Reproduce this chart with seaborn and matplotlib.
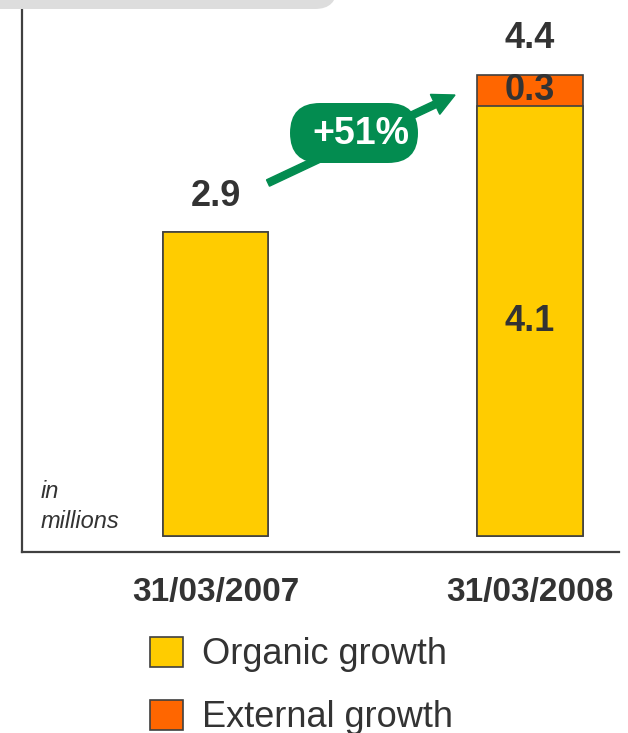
import matplotlib
matplotlib.use("Agg")
import matplotlib.pyplot as plt
import seaborn as sns
import pandas as pd
from matplotlib.patches import FancyBboxPatch, Patch, FancyArrow
from matplotlib.transforms import IdentityTransform

# Subscriber base, in millions
dates = ["31/03/2007", "31/03/2008"]
organic = [2.9, 4.1]
external = [0.0, 0.3]
growth_label = "+51%"
legend_labels = ["Organic growth", "External growth"]

YELLOW = "#FFCC00"
ORANGE = "#FF6600"
GREEN = "#038C50"
TEXT = "#333333"
EDGE = "#404040"

totals = [o + e for o, e in zip(organic, external)]
df = pd.DataFrame({"date": dates, "organic": organic, "external": external, "total": totals})

sns.set_theme(style="white")
plt.rcParams["font.family"] = ["Liberation Sans", "DejaVu Sans"]

W, H = 628, 733
fig = plt.figure(figsize=(W / 100, H / 100), dpi=100)
ax = fig.add_axes([22 / W, 1 - 552 / H, (619 - 22) / W, (552 - 9) / H])

bar_w = 0.334
# Full stack in orange, organic part painted over it in yellow
sns.barplot(data=df, x="date", y="total", color=ORANGE, saturation=1, width=bar_w,
            edgecolor=EDGE, linewidth=1.2, ax=ax)
sns.barplot(data=df, x="date", y="organic", color=YELLOW, saturation=1, width=bar_w,
            edgecolor=EDGE, linewidth=1.2, ax=ax)

ax.set_xlim(-0.615, 1.283)
ax.set_ylim(-0.153, 5.03)
ax.set_xlabel("")
ax.set_ylabel("")
ax.set_yticks([])
ax.tick_params(axis="x", length=0, pad=18)
ax.set_xticks(range(len(dates)))
ax.set_xticklabels(dates, fontsize=24, fontweight="bold", color=TEXT)
for side in ["top", "right"]:
    ax.spines[side].set_visible(False)
for side in ["left", "bottom"]:
    ax.spines[side].set_color(EDGE)
    ax.spines[side].set_linewidth(1.6)

# Totals above bars
for i, t in enumerate(totals):
    ax.annotate(f"{t:.1f}", (i, t), xytext=(0, 26), textcoords="offset points",
                ha="center", va="center", fontsize=26, fontweight="bold", color=TEXT)

# Segment values inside the stacked bar
i = 1
ax.text(i, organic[i] / 2, f"{organic[i]:.1f}", ha="center", va="center",
        fontsize=26, fontweight="bold", color=TEXT)
ax.text(i, organic[i] + external[i] / 2, f"{external[i]:.1f}", ha="center", va="center",
        fontsize=26, fontweight="bold", color=TEXT)

ax.text(-0.555, 0.28, "in\nmillions", ha="left", va="center", fontsize=17,
        style="italic", color=TEXT, linespacing=1.4)

# Growth arrow and badge, placed in pixel units (origin at bottom-left)
pix = IdentityTransform()

def py(y):
    return H - y

fig.patches.append(FancyArrow(268, py(183), 455 - 268, py(95) - py(183), width=7,
                              head_width=22, head_length=22, length_includes_head=True,
                              color=GREEN, transform=pix, zorder=5))
fig.patches.append(FancyBboxPatch((290, py(163)), 128, 60,
                                  boxstyle="round,pad=0,rounding_size=30",
                                  facecolor=GREEN, edgecolor="none",
                                  transform=pix, zorder=6))
fig.text(361 / W, 1 - 134 / H, growth_label, ha="center", va="center", fontsize=27,
         fontweight="bold", color="white", zorder=7)

# Grey header band
fig.patches.append(FancyBboxPatch((-40, py(9)), 377, 60,
                                  boxstyle="round,pad=0,rounding_size=22",
                                  facecolor="#DDDDDD", edgecolor="none",
                                  transform=pix, zorder=1))

# Legend
handles = [Patch(facecolor=YELLOW, edgecolor=EDGE, linewidth=1.2),
           Patch(facecolor=ORANGE, edgecolor=EDGE, linewidth=1.2)]
fig.legend(handles, legend_labels, loc="upper left", bbox_to_anchor=(132 / W, 1 - 619 / H),
           frameon=False, fontsize=26, handlelength=0.9, handleheight=0.9,
           handletextpad=0.55, labelspacing=0.76, labelcolor=TEXT, borderpad=0)

fig.savefig("out.png", dpi=100)
